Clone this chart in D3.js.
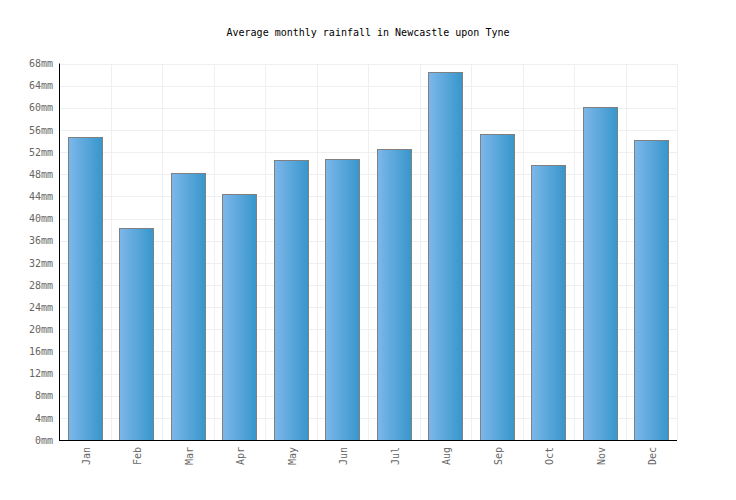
<!DOCTYPE html>
<html>
<head>
<meta charset="utf-8">
<script src="https://cdn.jsdelivr.net/npm/d3@7"></script>
<style>
  body { margin: 0; background: #fff; }
  svg { display: block; }
</style>
</head>
<body>
<div id="chart"></div>
<script>
var months = ["Jan", "Feb", "Mar", "Apr", "May", "Jun", "Jul", "Aug", "Sep", "Oct", "Nov", "Dec"];
var rainfall = [54.8, 38.2, 48.3, 44.4, 50.5, 50.7, 52.5, 66.4, 55.2, 49.6, 60.2, 54.1];
var yTicks = d3.range(0, 69, 4);

var width = 736, height = 500;
var margin = { top: 63.5, right: 59, bottom: 60, left: 59 };
var font = "'DejaVu Sans Mono', monospace";

var svg = d3.select("#chart").append("svg")
  .attr("width", width).attr("height", height);

var defs = svg.append("defs");
var grad = defs.append("linearGradient").attr("id", "barGrad")
  .attr("x1", "0%").attr("x2", "100%").attr("y1", "0%").attr("y2", "0%");
grad.append("stop").attr("offset", "0%").attr("stop-color", "#7db7ea");
grad.append("stop").attr("offset", "100%").attr("stop-color", "#3796cb");

var x = d3.scaleBand().domain(months)
  .range([margin.left, width - margin.right])
  .paddingInner(0.333).paddingOuter(0.1665);
var y = d3.scaleLinear().domain([0, 68])
  .range([height - margin.bottom, margin.top]);

var plotLeft = margin.left, plotRight = width - margin.right;
var plotBottom = height - margin.bottom, plotTop = margin.top;
var step = x.step();

// grid
var grid = svg.append("g").attr("stroke", "#efefef").attr("stroke-width", 1);
grid.selectAll("line.h").data(yTicks.slice(1)).enter().append("line")
  .attr("x1", plotLeft).attr("x2", plotRight)
  .attr("y1", function(d) { return Math.round(y(d)) + 0.5; })
  .attr("y2", function(d) { return Math.round(y(d)) + 0.5; });
grid.selectAll("line.v").data(months).enter().append("line")
  .attr("x1", function(d) { return Math.round(x(d) - x.step() * x.paddingInner() / 2 + step) + 0.5; })
  .attr("x2", function(d) { return Math.round(x(d) - x.step() * x.paddingInner() / 2 + step) + 0.5; })
  .attr("y1", plotTop).attr("y2", plotBottom);

// bars
svg.append("g").selectAll("rect").data(rainfall).enter().append("rect")
  .attr("x", function(d, i) { return Math.round(x(months[i])) + 0.5; })
  .attr("y", function(d) { return Math.round(y(d)) + 0.5; })
  .attr("width", Math.round(x.bandwidth()))
  .attr("height", function(d) { return Math.round(y(0)) - Math.round(y(d)); })
  .attr("fill", "url(#barGrad)")
  .attr("stroke", "#808080")
  .attr("stroke-width", 1);

// y axis
var yAxis = svg.append("g")
  .attr("transform", "translate(" + plotLeft + ",0)")
  .call(d3.axisLeft(y).tickValues(yTicks).tickSize(0).tickPadding(6)
    .tickFormat(function(d) { return d + "mm"; }));
yAxis.select(".domain").remove();
yAxis.selectAll("text")
  .attr("font-family", font).attr("font-size", 10).attr("fill", "#666");

// x axis
var xAxis = svg.append("g")
  .attr("transform", "translate(0," + plotBottom + ")")
  .call(d3.axisBottom(x).tickSize(0).tickPadding(0));
xAxis.select(".domain").remove();
xAxis.selectAll("text")
  .attr("font-family", font).attr("font-size", 10).attr("fill", "#666")
  .attr("transform", "rotate(-90)")
  .attr("text-anchor", "end")
  .attr("dy", "0.35em")
  .attr("x", -7).attr("y", 1.5);

// axis lines
svg.append("line").attr("x1", plotLeft + 0.5).attr("x2", plotLeft + 0.5)
  .attr("y1", plotTop).attr("y2", plotBottom + 1).attr("stroke", "#000");
svg.append("line").attr("x1", plotLeft).attr("x2", plotRight)
  .attr("y1", plotBottom + 0.5).attr("y2", plotBottom + 0.5).attr("stroke", "#000");

// title
svg.append("text")
  .attr("x", width / 2).attr("y", 36)
  .attr("text-anchor", "middle")
  .attr("font-family", font).attr("font-size", 10).attr("fill", "#000")
  .text("Average monthly rainfall in Newcastle upon Tyne");
</script>
</body>
</html>
